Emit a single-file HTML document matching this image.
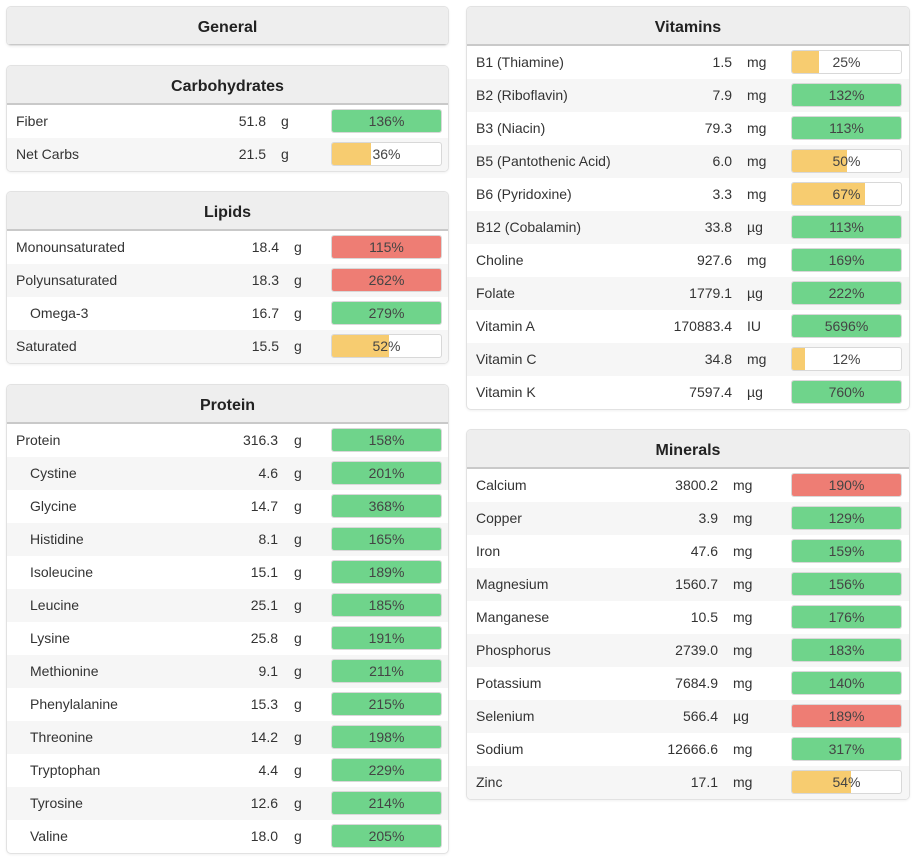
<!DOCTYPE html>
<html><head><meta charset="utf-8">
<style>
body{margin:0;width:913px;height:863px;background:#fff;font-family:"Liberation Sans",sans-serif;color:#333;position:relative;overflow:hidden}
.panel{position:absolute;border:1px solid #e2e2e2;border-radius:5px;background:#fff;box-sizing:border-box;overflow:hidden;box-shadow:0 1px 2px rgba(0,0,0,0.06)}
.hdr{position:absolute;left:0;right:0;top:0;height:37px;background:#eeeeee;border-bottom:2px solid #c9c9c9;text-align:center;font-weight:bold;font-size:16px;line-height:41px;color:#222}
.row{position:absolute;left:0;right:0;height:33px;font-size:14px;line-height:33px}
.row.alt{background:#f6f6f6}
.nm{position:absolute;top:0}
.val{position:absolute;top:0;text-align:right;width:120px}
.unit{position:absolute;top:0}
.bar{position:absolute;top:4px;width:111px;height:24px;border:1px solid #d8d8d8;border-radius:3px;box-sizing:border-box;background:#fff;overflow:hidden}
.fill{position:absolute;left:0;top:0;bottom:0}
.pct{position:absolute;left:0;right:0;top:0;text-align:center;line-height:22px;font-size:14px;color:#444}
</style></head><body>
<script>
const panels=[
 {name:'General',x:6,y:6,w:443,rows:[],ve:0,us:0},
 {name:'Carbohydrates',x:6,y:65,w:443,ve:259,us:274,rows:[['Fiber','51.8','g',136,'g',0],['Net Carbs','21.5','g',36,'y',0]]},
 {name:'Lipids',x:6,y:191,w:443,ve:272,us:287,rows:[['Monounsaturated','18.4','g',115,'r',0],['Polyunsaturated','18.3','g',262,'r',0],['Omega-3','16.7','g',279,'g',1],['Saturated','15.5','g',52,'y',0]]},
 {name:'Protein',x:6,y:384,w:443,ve:271,us:287,rows:[['Protein','316.3','g',158,'g',0],['Cystine','4.6','g',201,'g',1],['Glycine','14.7','g',368,'g',1],['Histidine','8.1','g',165,'g',1],['Isoleucine','15.1','g',189,'g',1],['Leucine','25.1','g',185,'g',1],['Lysine','25.8','g',191,'g',1],['Methionine','9.1','g',211,'g',1],['Phenylalanine','15.3','g',215,'g',1],['Threonine','14.2','g',198,'g',1],['Tryptophan','4.4','g',229,'g',1],['Tyrosine','12.6','g',214,'g',1],['Valine','18.0','g',205,'g',1]]},
 {name:'Vitamins',x:466,y:6,w:444,ve:265,us:280,rows:[['B1 (Thiamine)','1.5','mg',25,'y',0],['B2 (Riboflavin)','7.9','mg',132,'g',0],['B3 (Niacin)','79.3','mg',113,'g',0],['B5 (Pantothenic Acid)','6.0','mg',50,'y',0],['B6 (Pyridoxine)','3.3','mg',67,'y',0],['B12 (Cobalamin)','33.8','µg',113,'g',0],['Choline','927.6','mg',169,'g',0],['Folate','1779.1','µg',222,'g',0],['Vitamin A','170883.4','IU',5696,'g',0],['Vitamin C','34.8','mg',12,'y',0],['Vitamin K','7597.4','µg',760,'g',0]]},
 {name:'Minerals',x:466,y:429,w:444,ve:251,us:266,rows:[['Calcium','3800.2','mg',190,'r',0],['Copper','3.9','mg',129,'g',0],['Iron','47.6','mg',159,'g',0],['Magnesium','1560.7','mg',156,'g',0],['Manganese','10.5','mg',176,'g',0],['Phosphorus','2739.0','mg',183,'g',0],['Potassium','7684.9','mg',140,'g',0],['Selenium','566.4','µg',189,'r',0],['Sodium','12666.6','mg',317,'g',0],['Zinc','17.1','mg',54,'y',0]]}
];
const colors={g:'#6fd48b',y:'#f7cc70',r:'#ee7d74'};
panels.forEach(p=>{
 const d=document.createElement('div');d.className='panel';
 
 
 const h=p.rows.length?39+p.rows.length*33+2:40;
 d.style.cssText=`left:${p.x}px;top:${p.y}px;width:${p.w}px;height:${h}px`;
 const hd=document.createElement('div');hd.className='hdr';hd.textContent=p.name;
 
 
 d.appendChild(hd);
 p.rows.forEach((r,i)=>{
  const row=document.createElement('div');row.className='row'+(i%2?' alt':'');
  
  
  row.style.top=(39+i*33)+'px';
  const fw=Math.min(r[3],100);
  row.innerHTML=`<span class="nm" style="left:${r[5]?23:9}px">${r[0]}</span><span class="val" style="left:${p.ve-120}px">${r[1]}</span><span class="unit" style="left:${p.us}px">${r[2]}</span><div class="bar" style="left:324px"><div class="fill" style="width:${fw}%;background:${colors[r[4]]}"></div><div class="pct">${r[3]}%</div></div>`;
  d.appendChild(row);
 });
 document.body.appendChild(d);
});
</script>
</body></html>
